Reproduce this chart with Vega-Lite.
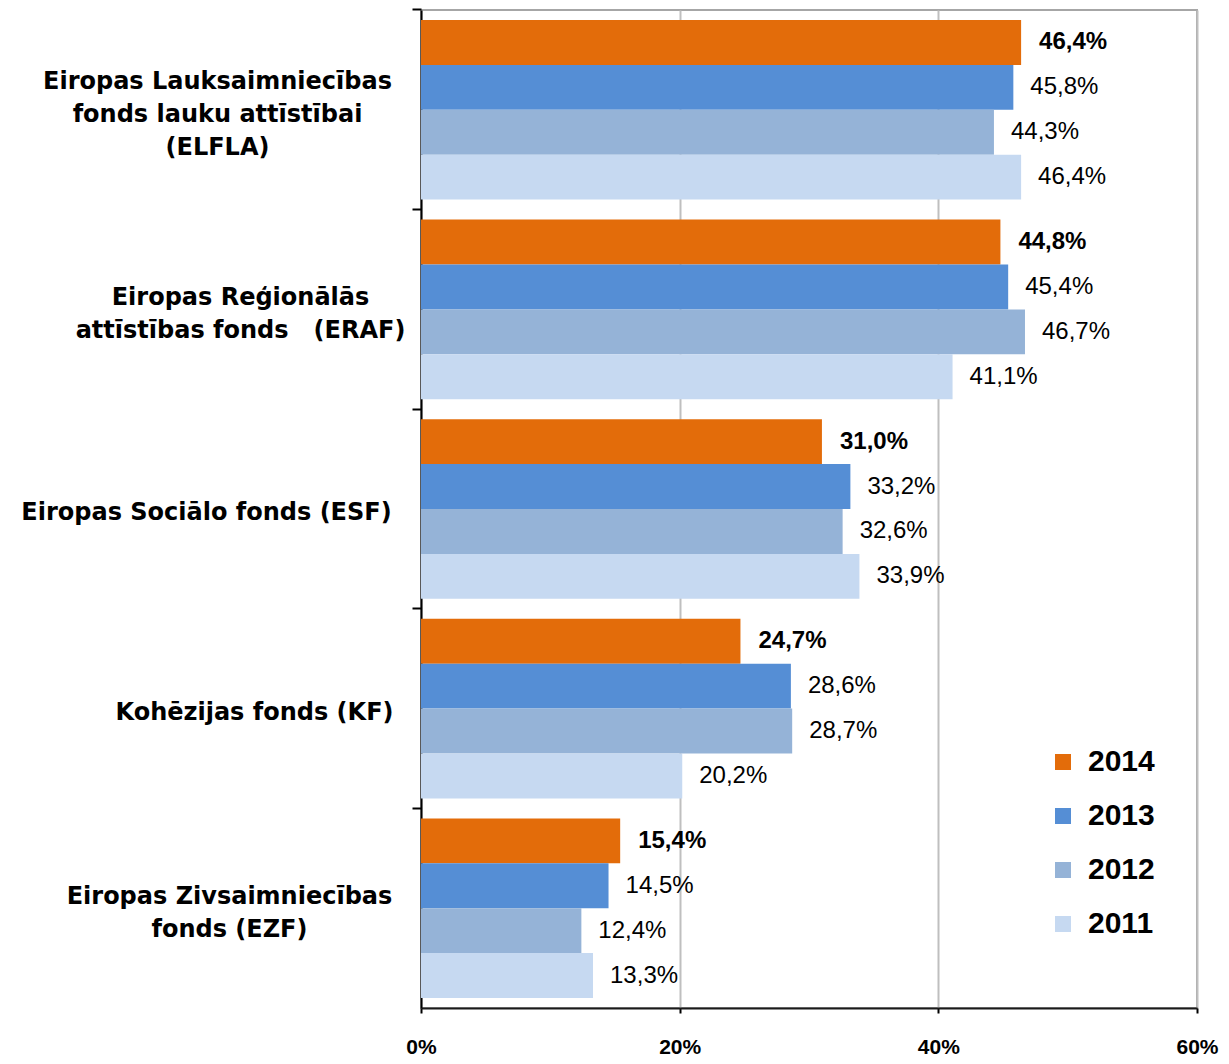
{
  "$schema": "https://vega.github.io/schema/vega-lite/v6.json",
  "width": 776,
  "height": 998,
  "autosize": {"type": "none"},
  "padding": {"left": 421, "top": 10, "right": 32, "bottom": 56},
  "background": "white",
  "config": {
    "locale": {"number": {"decimal": ",", "thousands": " ", "grouping": [3], "currency": ["", " €"]}},
    "view": {"stroke": "#A6A6A6", "strokeWidth": 2}
  },
  "data": {
    "values": [
      {"fonds": "Eiropas Lauksaimniecības\nfonds lauku attīstībai\n(ELFLA)", "year": "2014", "value": 0.464},
      {"fonds": "Eiropas Lauksaimniecības\nfonds lauku attīstībai\n(ELFLA)", "year": "2013", "value": 0.458},
      {"fonds": "Eiropas Lauksaimniecības\nfonds lauku attīstībai\n(ELFLA)", "year": "2012", "value": 0.443},
      {"fonds": "Eiropas Lauksaimniecības\nfonds lauku attīstībai\n(ELFLA)", "year": "2011", "value": 0.464},
      {"fonds": "Eiropas Reģionālās\nattīstības fonds \u00a0 (ERAF)", "year": "2014", "value": 0.448},
      {"fonds": "Eiropas Reģionālās\nattīstības fonds \u00a0 (ERAF)", "year": "2013", "value": 0.454},
      {"fonds": "Eiropas Reģionālās\nattīstības fonds \u00a0 (ERAF)", "year": "2012", "value": 0.467},
      {"fonds": "Eiropas Reģionālās\nattīstības fonds \u00a0 (ERAF)", "year": "2011", "value": 0.411},
      {"fonds": "Eiropas Sociālo fonds (ESF)", "year": "2014", "value": 0.310},
      {"fonds": "Eiropas Sociālo fonds (ESF)", "year": "2013", "value": 0.332},
      {"fonds": "Eiropas Sociālo fonds (ESF)", "year": "2012", "value": 0.326},
      {"fonds": "Eiropas Sociālo fonds (ESF)", "year": "2011", "value": 0.339},
      {"fonds": "Kohēzijas fonds (KF)", "year": "2014", "value": 0.247},
      {"fonds": "Kohēzijas fonds (KF)", "year": "2013", "value": 0.286},
      {"fonds": "Kohēzijas fonds (KF)", "year": "2012", "value": 0.287},
      {"fonds": "Kohēzijas fonds (KF)", "year": "2011", "value": 0.202},
      {"fonds": "Eiropas Zivsaimniecības\nfonds (EZF)", "year": "2014", "value": 0.154},
      {"fonds": "Eiropas Zivsaimniecības\nfonds (EZF)", "year": "2013", "value": 0.145},
      {"fonds": "Eiropas Zivsaimniecības\nfonds (EZF)", "year": "2012", "value": 0.124},
      {"fonds": "Eiropas Zivsaimniecības\nfonds (EZF)", "year": "2011", "value": 0.133}
    ]
  },
  "encoding": {
    "y": {
      "field": "fonds",
      "type": "nominal",
      "sort": null,
      "title": null,
      "scale": {"paddingInner": 0.1, "paddingOuter": 0.05},
      "axis": {
        "labelExpr": "split(datum.label, '\\n')",
        "labelFont": "DejaVu Sans",
        "labelFontWeight": "bold",
        "labelFontSize": 24,
        "labelColor": "black",
        "labelLineHeight": 33,
        "labelAlign": "center",
        "labelBaseline": "middle",
        "labelLimit": 0,
        "labelOffset": {
          "condition": [
            {"test": "indexof(datum.value, 'ELFLA') >= 0", "value": -28},
            {"test": "indexof(datum.value, 'ERAF') >= 0", "value": -11},
            {"test": "indexof(datum.value, 'ESF') >= 0", "value": 4},
            {"test": "indexof(datum.value, 'KF') >= 0", "value": 4}
          ],
          "value": -11
        },
        "labelPadding": {
          "condition": [
            {"test": "indexof(datum.value, 'ELFLA') >= 0", "value": 195},
            {"test": "indexof(datum.value, 'ERAF') >= 0", "value": 172},
            {"test": "indexof(datum.value, 'ESF') >= 0", "value": 206},
            {"test": "indexof(datum.value, 'KF') >= 0", "value": 158}
          ],
          "value": 183
        },
        "tickSize": 9,
        "tickColor": "black",
        "tickWidth": 2,
        "bandPosition": -0.0557,
        "domainColor": "black",
        "domainWidth": 2,
        "grid": false
      }
    },
    "yOffset": {
      "field": "year",
      "type": "nominal",
      "sort": ["2014", "2013", "2012", "2011"],
      "scale": {"paddingInner": 0, "paddingOuter": 0}
    },
    "x": {
      "field": "value",
      "type": "quantitative",
      "title": null,
      "scale": {"domain": [0, 0.6], "nice": false},
      "axis": {
        "values": [0, 0.2, 0.4, 0.6],
        "format": ".0%",
        "labelFlush": false,
        "labelFont": "Liberation Sans",
        "labelFontWeight": "bold",
        "labelFontSize": 21,
        "labelColor": "black",
        "labelPadding": 23,
        "tickSize": 5,
        "tickColor": "black",
        "tickWidth": 2,
        "domainColor": "#1a1a1a",
        "domainWidth": 2,
        "gridColor": "#BFBFBF",
        "gridWidth": 2
      }
    }
  },
  "layer": [
    {
      "mark": {"type": "bar"},
      "encoding": {
        "color": {
          "field": "year",
          "type": "nominal",
          "scale": {"domain": ["2014", "2013", "2012", "2011"], "range": ["#E36C0A", "#558ED5", "#95B3D7", "#C6D9F1"]},
          "legend": {
            "orient": "none",
            "legendX": 627,
            "legendY": 737,
            "title": null,
            "padding": 0,
            "symbolType": "square",
            "symbolSize": 256,
            "symbolStrokeWidth": 0,
            "symbolOpacity": 1,
            "labelFont": "Liberation Sans",
            "labelFontWeight": "bold",
            "labelFontSize": 30,
            "labelColor": "black",
            "labelOffset": 10,
            "rowPadding": 24
          }
        }
      }
    },
    {
      "transform": [{"filter": "datum.year === '2014'"}],
      "mark": {"type": "text", "align": "left", "baseline": "middle", "dx": 18, "font": "Liberation Sans", "fontSize": 24, "fontWeight": "bold", "color": "black"},
      "encoding": {"text": {"field": "value", "type": "quantitative", "format": ".1%"}}
    },
    {
      "transform": [{"filter": "datum.year !== '2014'"}],
      "mark": {"type": "text", "align": "left", "baseline": "middle", "dx": 17, "font": "Liberation Sans", "fontSize": 24, "color": "black"},
      "encoding": {"text": {"field": "value", "type": "quantitative", "format": ".1%"}}
    }
  ]
}
